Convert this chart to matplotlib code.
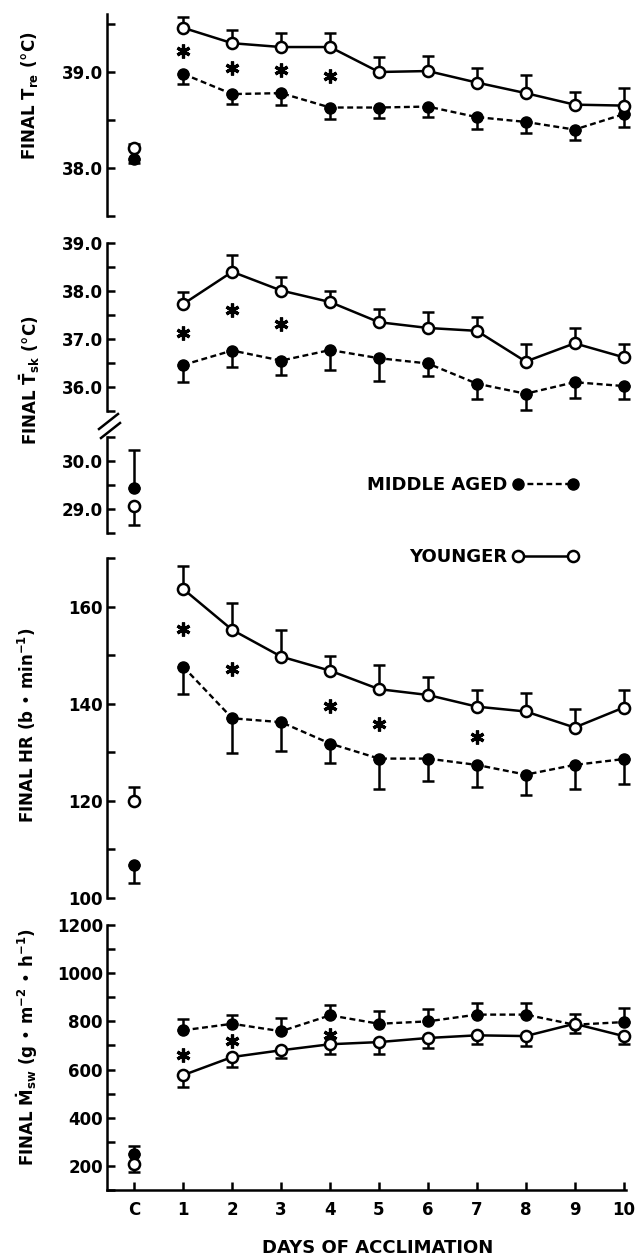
import numpy as np
import matplotlib.pyplot as plt
from matplotlib.ticker import MultipleLocator, FormatStrFormatter
from matplotlib.lines import Line2D

plt.rcParams['font.family'] = ['DejaVu Sans']
plt.rcParams['font.weight'] = 'bold'
plt.rcParams['mathtext.default'] = 'bf'

W, H = 637, 1256

days = np.arange(1, 11)
day_labels = ['C', '1', '2', '3', '4', '5', '6', '7', '8', '9', '10']

# final rectal temperature
tre_young = [39.46, 39.30, 39.26, 39.26, 39.00, 39.01, 38.89, 38.78, 38.66, 38.65]
tre_young_err = [0.11, 0.14, 0.15, 0.15, 0.16, 0.16, 0.15, 0.19, 0.13, 0.18]
tre_mid = [38.98, 38.77, 38.78, 38.63, 38.63, 38.64, 38.53, 38.48, 38.40, 38.56]
tre_mid_err = [0.10, 0.10, 0.12, 0.12, 0.11, 0.11, 0.12, 0.12, 0.11, 0.13]
tre_c = [38.21, 0.04, 38.09, 0.04]   # young, err, mid, err
tre_star_x = [1, 2, 3, 4]
tre_star_y = [39.22, 39.04, 39.02, 38.96]

# final mean skin temperature
tsk_young = [37.73, 38.40, 38.01, 37.77, 37.35, 37.23, 37.17, 36.53, 36.91, 36.62]
tsk_young_err = [0.25, 0.35, 0.28, 0.24, 0.28, 0.34, 0.28, 0.36, 0.32, 0.28]
tsk_mid = [36.46, 36.76, 36.55, 36.77, 36.60, 36.49, 36.07, 35.86, 36.10, 36.02]
tsk_mid_err = [0.35, 0.35, 0.31, 0.42, 0.48, 0.27, 0.33, 0.33, 0.33, 0.28]
tsk_c = [29.06, 0.38, 29.44, 0.78]
tsk_star_x = [1, 2, 3]
tsk_star_y = [37.12, 37.60, 37.31]

# final heart rate
hr_young = [163.6, 155.2, 149.7, 146.8, 143.0, 141.8, 139.4, 138.4, 135.1, 139.2]
hr_young_err = [4.8, 5.6, 5.5, 3.1, 5.0, 3.8, 3.4, 3.9, 3.9, 3.6]
hr_mid = [147.6, 137.0, 136.2, 131.8, 128.7, 128.7, 127.4, 125.4, 127.4, 128.6]
hr_mid_err = [5.6, 7.1, 6.0, 4.1, 6.3, 4.6, 4.5, 4.1, 5.0, 5.2]
hr_c = [120.0, 2.9, 106.7, 3.7]
hr_star_x = [1, 2, 4, 5, 7]
hr_star_y = [155.4, 147.1, 139.6, 135.8, 133.2]

# final sweat rate
msw_young = [577, 652, 680, 705, 714, 731, 742, 739, 790, 739]
msw_young_err = [48, 41, 34, 39, 51, 40, 34, 41, 40, 32]
msw_mid = [763, 790, 759, 825, 790, 800, 828, 828, 786, 797]
msw_mid_err = [48, 35, 57, 41, 52, 50, 48, 50, 45, 57]
msw_c = [208, 35, 250, 33]
msw_star_x = [1, 2, 4]
msw_star_y = [659, 717, 745]

LW = 1.8
MS = 8
fig = plt.figure(figsize=(W / 100, H / 100), dpi=100)


def rect(top, bottom):
    return [107 / W, 1 - bottom / H, (626 - 107) / W, (bottom - top) / H]


def style(ax, ylim, major, minor, fmt, bottom=False):
    ax.set_xlim(-0.56, 10.05)
    ax.set_ylim(ylim)
    for s in ['top', 'right', 'bottom']:
        ax.spines[s].set_visible(False)
    ax.spines['left'].set_linewidth(LW)
    ax.yaxis.set_major_locator(MultipleLocator(major))
    ax.yaxis.set_minor_locator(MultipleLocator(minor))
    ax.yaxis.set_major_formatter(FormatStrFormatter(fmt))
    ax.tick_params(axis='y', which='both', direction='in', length=6, width=LW,
                   pad=3, labelsize=12)
    ax.patch.set_alpha(0)
    if bottom:
        ax.spines['bottom'].set_visible(True)
        ax.spines['bottom'].set_linewidth(LW)
        ax.set_xticks(range(11))
        ax.set_xticklabels(day_labels)
        ax.tick_params(axis='x', direction='in', length=6, width=LW, pad=8, labelsize=12)
    else:
        ax.set_xticks([])


def bars(ax, x, y, err, up):
    err = np.atleast_1d(err)
    z = np.zeros_like(err, dtype=float)
    ax.errorbar(x, y, yerr=[z, err] if up else [err, z], fmt='none', ecolor='k',
                elinewidth=LW, capsize=4.5, capthick=LW, zorder=2, clip_on=False)


def series(ax, young, young_err, mid, mid_err, young_up=True):
    bars(ax, days, young, young_err, young_up)
    bars(ax, days, mid, mid_err, not young_up)
    ax.plot(days, mid, ls=(0, (2.5, 1.5)), color='k', lw=1.7, marker='o', ms=MS,
            mfc='k', zorder=3, clip_on=False)
    ax.plot(days, young, ls='-', color='k', lw=LW, marker='o', ms=MS, mfc='white',
            mew=LW, zorder=4, clip_on=False)


def control(ax, c, young_up=True):
    bars(ax, [0], [c[2]], c[3], not young_up)
    bars(ax, [0], [c[0]], c[1], young_up)
    ax.plot([0], [c[2]], 'o', color='k', ms=MS, zorder=3, clip_on=False)
    ax.plot([0], [c[0]], 'o', color='k', ms=MS, mfc='white', mew=LW, zorder=4, clip_on=False)


def stars(ax, x, y):
    ax.plot(x, y, ls='none', marker=(6, 2, 0), ms=10, mew=2.3, color='k', clip_on=False)


# panel 1: rectal temperature
ax1 = fig.add_axes(rect(14.4, 216))
style(ax1, (37.5, 39.6), 1.0, 0.5, '%.1f')
series(ax1, tre_young, tre_young_err, tre_mid, tre_mid_err)
control(ax1, tre_c)
stars(ax1, tre_star_x, tre_star_y)

# panel 2: skin temperature (broken axis)
ax2 = fig.add_axes(rect(243, 411))
style(ax2, (35.5, 39.0), 1.0, 0.5, '%.1f')
series(ax2, tsk_young, tsk_young_err, tsk_mid, tsk_mid_err)
stars(ax2, tsk_star_x, tsk_star_y)

ax2b = fig.add_axes(rect(436.7, 533.3))
style(ax2b, (28.5, 30.5), 1.0, 0.5, '%.1f')
control(ax2b, tsk_c, young_up=False)

for x0, y0, x1, y1 in [(99, 429, 118, 414), (101, 438, 120, 423)]:
    fig.add_artist(Line2D([x0 / W, x1 / W], [1 - y0 / H, 1 - y1 / H],
                          transform=fig.transFigure, color='k', lw=LW))

# panel 3: heart rate
ax3 = fig.add_axes(rect(558, 898))
style(ax3, (100, 170), 20, 10, '%d')
series(ax3, hr_young, hr_young_err, hr_mid, hr_mid_err)
control(ax3, hr_c)
stars(ax3, hr_star_x, hr_star_y)

# panel 4: sweat rate
ax4 = fig.add_axes(rect(925, 1190))
style(ax4, (100, 1200), 200, 100, '%d', bottom=True)
series(ax4, msw_young, msw_young_err, msw_mid, msw_mid_err, young_up=False)
control(ax4, msw_c, young_up=False)
stars(ax4, msw_star_x, msw_star_y)

# y labels
fig.text(30 / W, 1 - 96 / H, r'FINAL T$_{re}$ (°C)', rotation=90, ha='center', va='center', fontsize=12)
fig.text(30 / W, 1 - 380 / H, r'FINAL $\bar{T}_{sk}$ (°C)', rotation=90, ha='center', va='center', fontsize=12)
fig.text(27 / W, 1 - 725 / H, r'FINAL HR (b • min$^{-1}$)', rotation=90, ha='center', va='center', fontsize=12)
fig.text(27 / W, 1 - 1047 / H, r'FINAL $\dot{M}_{sw}$ (g • m$^{-2}$ • h$^{-1}$)', rotation=90,
         ha='center', va='center', fontsize=12)
fig.text(378 / W, 1 - 1248 / H, 'DAYS OF ACCLIMATION', ha='center', va='center', fontsize=13)

# legend
h_mid = Line2D([], [], color='k', ls=(0, (2.5, 1.5)), lw=1.7, marker='o', ms=MS, mfc='k')
h_young = Line2D([], [], color='k', ls='-', lw=LW, marker='o', ms=MS, mfc='white', mew=LW)
for h, lab, yy in [(h_mid, 'MIDDLE AGED', 485), (h_young, 'YOUNGER', 557)]:
    fig.legend(handles=[h], labels=[lab], loc='center right', bbox_to_anchor=(578 / W, 1 - yy / H),
               markerfirst=False, frameon=False, fontsize=13, numpoints=2, handlelength=3.65,
               handletextpad=0.25, borderpad=0, borderaxespad=0)

fig.savefig('out.png', dpi=100)
